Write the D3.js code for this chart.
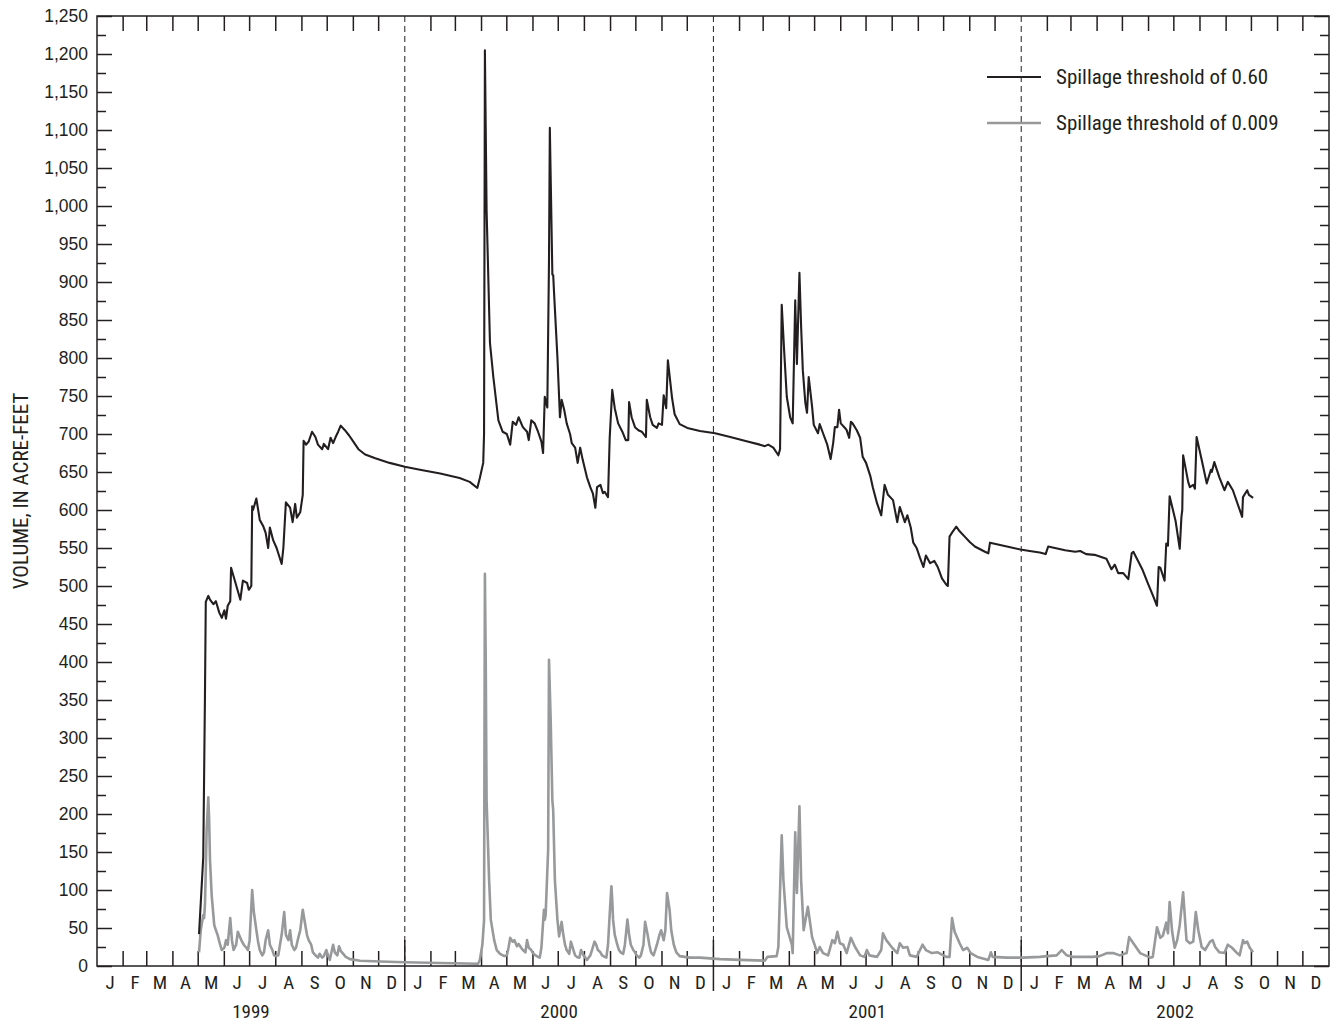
<!DOCTYPE html>
<html>
<head>
<meta charset="utf-8">
<script src="https://cdn.jsdelivr.net/npm/d3@7"></script>
<style>
  body { margin: 0; background: #fff; }
  svg { display: block; font-family: "Roboto Condensed", "Liberation Sans Narrow", Roboto, sans-serif; }
  .tick text { fill: #231f20; }
</style>
</head>
<body>
<script>
// days since 1999-01-01, volume in acre-feet
const threshold060 = [
  [121,42],[126,143],[128,353],[129,479],[132,487],[134,482],[138,476],[141,480],[145,465],[148,458],
  [151,468],[153,457],[155,474],[158,480],[159,524],[164,505],[170,482],[173,507],[178,504],[180,495],
  [183,500],[184,605],[185,600],[189,615],[193,587],[197,579],[200,570],[203,550],[205,577],[209,560],
  [213,550],[219,529],[221,550],[224,610],[229,603],[232,584],[235,608],[237,590],[241,597],[244,620],
  [245,691],[248,686],[251,690],[255,703],[259,696],[262,686],[267,680],[269,687],[274,680],[277,695],
  [280,688],[283,696],[286,703],[289,711],[294,705],[299,698],[304,690],[310,680],[318,673],[330,668],
  [347,662],[365,657],[383,653],[407,648],[430,642],[442,637],[451,629],[454,642],[458,662],[459,700],
  [460,1205],[462,995],[466,820],[470,775],[476,718],[481,703],[486,700],[490,686],[493,716],[497,712],
  [500,722],[505,709],[510,703],[512,692],[515,718],[519,714],[523,703],[527,690],[529,675],[531,749],
  [534,735],[536,927],[537,1103],[540,910],[541,909],[542,886],[546,801],[549,722],[551,745],[554,732],
  [557,714],[561,700],[563,688],[567,682],[570,662],[573,682],[576,666],[581,643],[585,630],[588,622],
  [591,603],[593,630],[597,633],[600,622],[602,624],[606,617],[608,695],[611,758],[614,734],[618,714],
  [623,703],[627,692],[630,692],[631,742],[634,722],[638,709],[642,705],[646,703],[651,696],[652,745],
  [656,722],[659,712],[664,708],[666,714],[670,712],[672,751],[675,734],[677,797],[682,747],[685,726],
  [691,713],[700,708],[715,704],[733,701],[751,696],[768,691],[786,686],[792,684],[796,686],[802,682],
  [808,672],[810,680],[812,870],[815,807],[818,749],[822,722],[825,714],[828,876],[830,792],[833,912],
  [835,841],[837,784],[840,741],[842,728],[844,775],[848,736],[850,712],[855,701],[857,713],[861,701],
  [866,686],[870,667],[873,688],[875,709],[878,709],[880,732],[882,714],[887,708],[889,705],[892,695],
  [894,716],[896,714],[901,705],[905,695],[908,670],[912,662],[917,645],[920,630],[925,609],[930,593],
  [934,633],[938,620],[944,613],[949,584],[952,604],[956,591],[958,584],[961,593],[965,577],[968,557],
  [972,550],[976,537],[980,525],[983,540],[988,530],[993,533],[997,525],[1002,510],[1007,502],[1009,500],
  [1011,565],[1015,572],[1019,578],[1023,572],[1029,565],[1035,558],[1041,552],[1053,545],[1057,543],
  [1059,557],[1071,554],[1083,551],[1095,548],[1106,546],[1118,544],[1125,542],[1128,552],[1136,550],
  [1148,547],[1160,545],[1166,546],[1173,542],[1183,541],[1197,536],[1203,522],[1207,528],[1211,517],
  [1217,517],[1223,509],[1227,543],[1229,545],[1240,521],[1246,504],[1252,488],[1257,474],[1259,525],
  [1261,524],[1266,507],[1268,556],[1270,553],[1272,618],[1279,586],[1284,549],[1286,591],[1287,600],
  [1288,672],[1294,637],[1296,630],[1300,633],[1302,628],[1304,696],[1310,666],[1316,635],[1321,653],
  [1322,650],[1325,663],[1331,643],[1337,626],[1341,637],[1347,626],[1358,591],[1359,617],[1364,626],
  [1366,620],[1371,616]
];

const threshold0009 = [
  [121,18],[123,47],[126,67],[127,63],[128,80],[129,126],[130,179],[132,222],[133,192],[134,140],
  [136,93],[139,54],[141,47],[143,41],[146,28],[148,21],[151,24],[153,34],[155,28],[158,63],
  [160,34],[162,21],[165,28],[167,45],[170,37],[172,32],[174,28],[177,24],[179,21],[181,34],
  [184,100],[186,71],[189,47],[191,32],[193,21],[196,14],[198,18],[200,34],[203,47],[205,28],
  [208,21],[210,14],[212,13],[215,14],[217,28],[219,41],[222,71],[224,41],[227,34],[229,47],
  [231,28],[234,21],[236,24],[238,34],[241,47],[244,74],[247,54],[249,41],[251,34],[254,28],
  [256,18],[260,13],[262,11],[264,16],[267,11],[269,13],[272,21],[274,14],[276,8],[280,28],
  [282,18],[285,14],[287,26],[289,20],[292,16],[295,12],[300,9],[312,7],[336,6],[365,5],
  [407,4],[452,3],[454,8],[457,28],[459,60],[460,516],[461,400],[462,218],[465,113],[467,61],
  [471,34],[474,21],[478,16],[483,13],[486,14],[488,24],[490,37],[493,32],[495,34],[498,26],
  [500,29],[503,24],[505,21],[508,18],[510,34],[512,24],[515,21],[517,17],[520,14],[523,12],
  [525,11],[527,24],[530,74],[531,61],[532,67],[535,153],[536,403],[538,324],[540,218],[541,205],
  [543,113],[546,61],[548,39],[551,58],[553,41],[555,28],[557,21],[560,16],[562,32],[565,21],
  [567,14],[569,12],[572,11],[574,21],[577,14],[579,11],[581,8],[585,14],[587,21],[590,32],
  [592,28],[594,21],[597,18],[599,14],[602,12],[604,11],[606,28],[608,68],[610,105],[611,87],
  [612,61],[614,41],[617,28],[619,21],[621,18],[624,16],[626,28],[629,61],[631,41],[633,28],
  [636,21],[638,18],[640,14],[643,11],[645,14],[648,28],[650,58],[653,41],[655,28],[657,18],
  [660,14],[662,21],[664,28],[667,41],[669,47],[672,34],[674,47],[676,96],[679,74],[681,47],
  [684,28],[687,18],[691,13],[697,12],[703,11],[715,11],[739,9],[763,8],[792,7],[795,12],
  [806,13],[808,25],[812,172],[814,113],[818,51],[824,28],[825,17],[828,176],[830,96],[833,210],
  [835,113],[838,47],[843,78],[848,38],[851,28],[854,17],[857,25],[861,17],[867,14],[872,34],
  [875,30],[878,45],[881,30],[885,28],[889,17],[894,37],[899,25],[905,14],[910,12],[913,21],
  [916,14],[925,12],[930,21],[932,43],[936,34],[943,24],[949,17],[952,30],[956,24],[961,25],
  [964,14],[972,12],[979,28],[983,21],[990,17],[997,18],[1007,12],[1011,12],[1014,63],[1017,45],
  [1023,30],[1027,21],[1032,24],[1036,17],[1044,12],[1057,8],[1060,18],[1062,12],[1079,11],
  [1098,11],[1118,12],[1127,13],[1138,14],[1144,21],[1150,14],[1157,12],[1181,12],[1189,13],
  [1198,17],[1205,17],[1213,14],[1221,17],[1224,38],[1229,30],[1237,17],[1249,11],[1252,12],
  [1257,51],[1261,37],[1264,40],[1268,57],[1270,43],[1272,84],[1275,45],[1278,24],[1281,34],
  [1284,54],[1288,97],[1292,34],[1296,30],[1300,32],[1303,71],[1306,47],[1310,25],[1314,21],
  [1320,32],[1323,34],[1326,25],[1331,18],[1337,17],[1341,28],[1346,24],[1352,17],[1355,14],
  [1359,34],[1361,30],[1364,32],[1367,24],[1371,18]
];

const years = [1999, 2000, 2001, 2002];
const monthLetters = ["J","F","M","A","M","J","J","A","S","O","N","D"];
const yMax = 1250;
const legendLabels = ["Spillage threshold of 0.60", "Spillage threshold of 0.009"];

const width = 1337, height = 1024;
const margin = {top: 16, right: 8, bottom: 58, left: 97};
const ink = "#231f20";
const grey = "#98999b";

const svg = d3.select("body").append("svg")
  .attr("width", width)
  .attr("height", height);

const start = new Date(1999, 0, 1);
const end = new Date(2003, 0, 1);
const x = d3.scaleTime()
  .domain([start, end])
  .range([margin.left, width - margin.right]);
const y = d3.scaleLinear()
  .domain([0, yMax])
  .range([height - margin.bottom, margin.top]);

const x0 = x.range()[0], x1 = x.range()[1];
const y0 = y.range()[0], y1 = y.range()[1];

// year separators (dashed)
const yearBounds = years.slice(1).map(yr => new Date(yr, 0, 1));
svg.append("g").selectAll("line")
  .data(yearBounds)
  .enter().append("line")
    .attr("x1", d => x(d)).attr("x2", d => x(d))
    .attr("y1", y1).attr("y2", y0)
    .attr("stroke", ink)
    .attr("stroke-width", 1)
    .attr("stroke-dasharray", "6,4");

// year ticks below axis
svg.append("g").selectAll("line")
  .data(yearBounds)
  .enter().append("line")
    .attr("x1", d => x(d)).attr("x2", d => x(d))
    .attr("y1", y0 - 26).attr("y2", y0 + 25)
    .attr("stroke", ink)
    .attr("stroke-width", 1.5);

// month ticks, bottom and top
const months = d3.timeMonths(start, end).filter(d => d.getMonth() !== 0);
svg.append("g").selectAll("line")
  .data(months)
  .enter().append("line")
    .attr("x1", d => x(d)).attr("x2", d => x(d))
    .attr("y1", y0).attr("y2", y0 - 15)
    .attr("stroke", ink).attr("stroke-width", 1.5);
svg.append("g").selectAll("line")
  .data(months)
  .enter().append("line")
    .attr("x1", d => x(d)).attr("x2", d => x(d))
    .attr("y1", y1).attr("y2", y1 + 15)
    .attr("stroke", ink).attr("stroke-width", 1.5);

// month letters
const allMonths = d3.timeMonths(start, end);
svg.append("g").selectAll("text")
  .data(allMonths)
  .enter().append("text")
    .attr("x", d => (x(d) + x(d3.timeMonth.offset(d, 1))) / 2)
    .attr("y", y0 + 23)
    .attr("text-anchor", "middle")
    .attr("font-size", 19)
    .attr("fill", ink)
    .text(d => monthLetters[d.getMonth()]);

// year labels
svg.append("g").selectAll("text")
  .data(years)
  .enter().append("text")
    .attr("x", d => (x(new Date(d, 0, 1)) + x(new Date(d + 1, 0, 1))) / 2)
    .attr("y", y0 + 52)
    .attr("text-anchor", "middle")
    .attr("font-size", 19)
    .attr("fill", ink)
    .text(d => d);

// y axis left with labels, inward ticks
const yAxis = d3.axisLeft(y)
  .tickValues(d3.range(0, yMax + 1, 50))
  .tickSizeInner(-15).tickSizeOuter(0).tickPadding(9)
  .tickFormat(d3.format(","));
const gy = svg.append("g").attr("transform", `translate(${x0},0)`).call(yAxis);
gy.select(".domain").remove();
gy.selectAll(".tick line").attr("stroke", ink).attr("stroke-width", 1.5);
gy.selectAll(".tick text").attr("font-size", 17.5).attr("font-family", null);

const minorVals = d3.range(25, yMax, 50);
const gyMinor = svg.append("g").attr("transform", `translate(${x0},0)`)
  .call(d3.axisLeft(y).tickValues(minorVals).tickSizeInner(-9).tickSizeOuter(0).tickFormat(""));
gyMinor.select(".domain").remove();
gyMinor.selectAll(".tick line").attr("stroke", ink).attr("stroke-width", 1.5);

// right side ticks
const gr = svg.append("g").attr("transform", `translate(${x1},0)`)
  .call(d3.axisRight(y).tickValues(d3.range(0, yMax + 1, 50)).tickSizeInner(-15).tickSizeOuter(0).tickFormat(""));
gr.select(".domain").remove();
gr.selectAll(".tick line").attr("stroke", ink).attr("stroke-width", 1.5);
const grMinor = svg.append("g").attr("transform", `translate(${x1},0)`)
  .call(d3.axisRight(y).tickValues(minorVals).tickSizeInner(-9).tickSizeOuter(0).tickFormat(""));
grMinor.select(".domain").remove();
grMinor.selectAll(".tick line").attr("stroke", ink).attr("stroke-width", 1.5);

// frame
svg.append("rect")
  .attr("x", x0).attr("y", y1)
  .attr("width", x1 - x0).attr("height", y0 - y1)
  .attr("fill", "none")
  .attr("stroke", ink)
  .attr("stroke-width", 1.5);

// y title
svg.append("text")
  .attr("transform", `translate(28,${(y0 + y1) / 2}) rotate(-90)`)
  .attr("text-anchor", "middle")
  .attr("font-size", 21)
  .attr("fill", ink)
  .text("VOLUME, IN ACRE-FEET");

// series
const line = d3.line()
  .x(d => x(d3.timeDay.offset(start, d[0])))
  .y(d => y(d[1]));

svg.append("path")
  .datum(threshold0009)
  .attr("d", line)
  .attr("fill", "none")
  .attr("stroke", grey)
  .attr("stroke-width", 2.6)
  .attr("stroke-linejoin", "round");

svg.append("path")
  .datum(threshold060)
  .attr("d", line)
  .attr("fill", "none")
  .attr("stroke", ink)
  .attr("stroke-width", 2.1)
  .attr("stroke-linejoin", "round");

// legend
const legend = svg.append("g").attr("transform", "translate(987,77)");
const legendColors = [ink, grey];
const legendWidths = [2.1, 2.6];
legendLabels.forEach((lab, i) => {
  const g = legend.append("g").attr("transform", `translate(0,${i * 46})`);
  g.append("line")
    .attr("x1", 0).attr("x2", 54)
    .attr("stroke", legendColors[i])
    .attr("stroke-width", legendWidths[i]);
  g.append("text")
    .attr("x", 69).attr("y", 7)
    .attr("font-size", 21)
    .attr("fill", ink)
    .text(lab);
});
</script>
</body>
</html>
